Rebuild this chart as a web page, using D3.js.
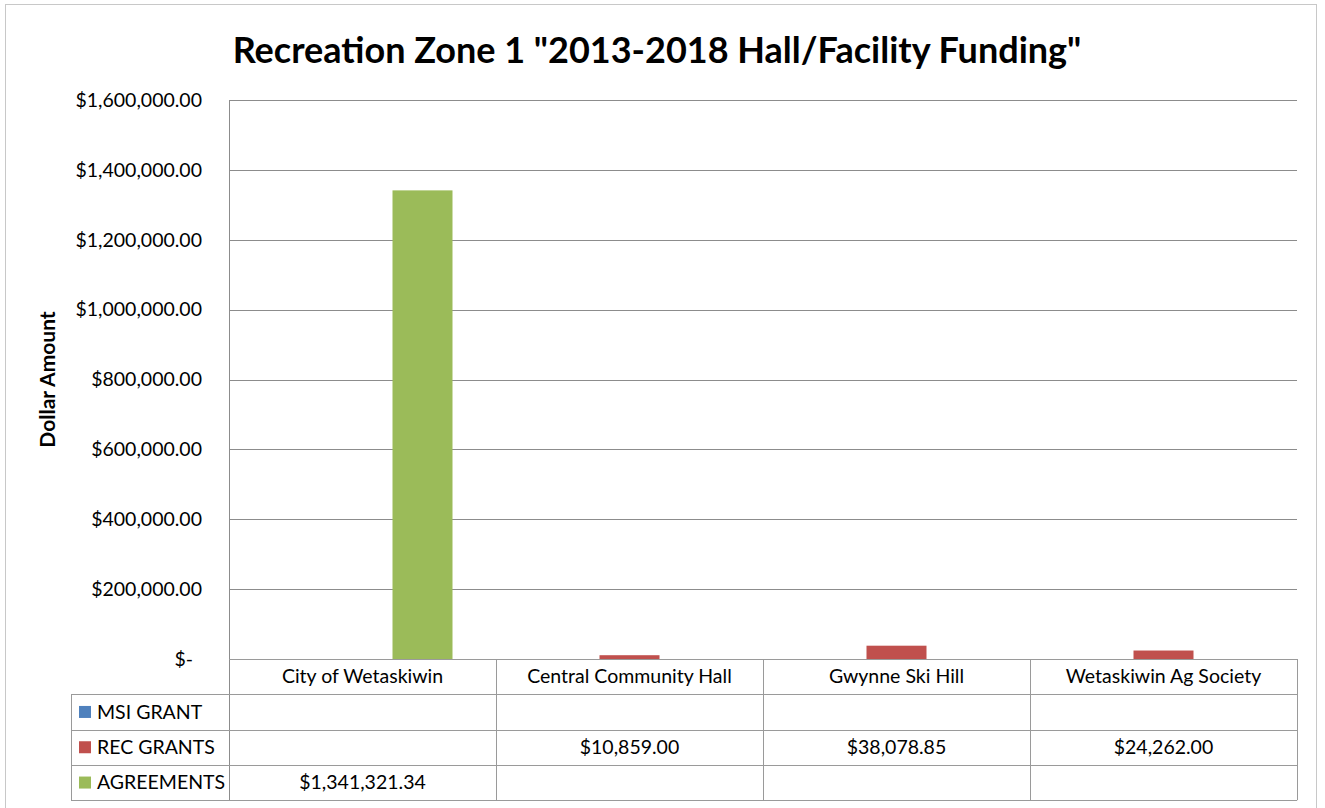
<!DOCTYPE html>
<html>
<head>
<meta charset="utf-8">
<script src="https://cdn.jsdelivr.net/npm/d3@7"></script>
<style>
  body { margin: 0; background: #fff; }
  text { font-family: Lato, "Open Sans", sans-serif; fill: #000; }
</style>
</head>
<body>
<div id="chart"></div>
<script>
var categories = ["City of Wetaskiwin", "Central Community Hall", "Gwynne Ski Hill", "Wetaskiwin Ag Society"];
var seriesNames = ["MSI GRANT", "REC GRANTS", "AGREEMENTS"];
var msiGrant = [null, null, null, null];
var recGrants = [null, 10859, 38078.85, 24262];
var agreements = [1341321.34, null, null, null];
var yTicks = [0, 200000, 400000, 600000, 800000, 1000000, 1200000, 1400000, 1600000];
var colours = ["#4F81BD", "#C0504D", "#9BBB59"];

var seriesValues = [msiGrant, recGrants, agreements];

var width = 1325, height = 808;
var plotLeft = 229, plotRight = 1297, plotTop = 100, plotBottom = 659;
var rowH = 35.3;
var fs = "19.5px";

var svg = d3.select("#chart").append("svg")
    .attr("width", width)
    .attr("height", height);

// outer chart border
svg.append("rect")
    .attr("x", 5.5).attr("y", 4.5)
    .attr("width", 1311).attr("height", 820)
    .attr("fill", "#fff")
    .attr("stroke", "#c8c8c8");

var x0 = d3.scaleBand().domain(categories).range([plotLeft, plotRight]);
var x1 = d3.scaleBand().domain(seriesNames).range([0, x0.bandwidth()]).paddingOuter(0.725);
var y = d3.scaleLinear().domain([0, 1600000]).range([plotBottom, plotTop]);

// gridlines
svg.append("g")
    .selectAll("line")
    .data(yTicks.slice(1))
    .enter()
    .append("line")
    .attr("x1", plotLeft).attr("x2", plotRight)
    .attr("y1", function (d) { return Math.round(y(d)) + 0.5; })
    .attr("y2", function (d) { return Math.round(y(d)) + 0.5; })
    .attr("stroke", "#8c8c8c");

// y axis with accounting-style labels
var fmt = d3.format(",.2f");
var yAxis = d3.axisLeft(y)
    .tickValues(yTicks)
    .tickSize(0)
    .tickPadding(27)
    .tickFormat(function (d) { return d === 0 ? "$-" : "$" + fmt(d); });

var ax = svg.append("g")
    .attr("transform", "translate(" + plotLeft + ",0)")
    .call(yAxis);
ax.select(".domain").remove();
ax.selectAll("text")
    .style("font-size", "19.5px")
    .attr("dx", function (d) { return d === 0 ? -9 : 0; });

// bars
var flat = [];
seriesValues.forEach(function (vals, si) {
    vals.forEach(function (v, ci) {
        if (v != null) flat.push({ cat: categories[ci], s: seriesNames[si], v: v, si: si });
    });
});

svg.append("g")
    .selectAll("rect")
    .data(flat)
    .enter()
    .append("rect")
    .attr("x", function (d) { return x0(d.cat) + x1(d.s); })
    .attr("width", x1.bandwidth())
    .attr("y", function (d) { return y(d.v); })
    .attr("height", function (d) { return y(0) - y(d.v); })
    .attr("fill", function (d) { return colours[d.si]; });

// data table
var tbl = svg.append("g").attr("stroke", "#9a9a9a").attr("fill", "none");
var tableLeft = 71;
var rowYs = [plotBottom, plotBottom + rowH, plotBottom + rowH * 2, plotBottom + rowH * 3, plotBottom + rowH * 4];

// axis line / left plot edge
tbl.append("line")
    .attr("x1", plotLeft + 0.5).attr("x2", plotLeft + 0.5)
    .attr("y1", plotTop).attr("y2", rowYs[4])
    .attr("stroke", "#8c8c8c");

// horizontal rules
tbl.selectAll("line.h")
    .data(rowYs)
    .enter()
    .append("line")
    .attr("class", "h")
    .attr("x1", function (d, i) { return i === 0 ? plotLeft : tableLeft; })
    .attr("x2", plotRight)
    .attr("y1", function (d) { return Math.round(d) + 0.5; })
    .attr("y2", function (d) { return Math.round(d) + 0.5; });

// vertical rules
tbl.selectAll("line.v")
    .data(categories.map(function (c) { return x0(c) + x0.bandwidth(); }))
    .enter()
    .append("line")
    .attr("class", "v")
    .attr("x1", function (d) { return Math.round(d) + 0.5; })
    .attr("x2", function (d) { return Math.round(d) + 0.5; })
    .attr("y1", rowYs[0]).attr("y2", rowYs[4]);

tbl.append("line")
    .attr("x1", tableLeft + 0.5).attr("x2", tableLeft + 0.5)
    .attr("y1", rowYs[1]).attr("y2", rowYs[4]);

// category header
svg.append("g")
    .selectAll("text")
    .data(categories)
    .enter()
    .append("text")
    .attr("x", function (d) { return x0(d) + x0.bandwidth() / 2; })
    .attr("y", rowYs[0] + rowH / 2)
    .attr("dy", "0.35em")
    .attr("text-anchor", "middle")
    .style("font-size", fs)
    .text(function (d) { return d; });

// legend keys and row labels
var rows = svg.append("g")
    .selectAll("g")
    .data(seriesNames)
    .enter()
    .append("g")
    .attr("transform", function (d, i) { return "translate(0," + (rowYs[i + 1] + rowH / 2) + ")"; });

rows.append("rect")
    .attr("x", 79).attr("y", -6)
    .attr("width", 12).attr("height", 12)
    .attr("fill", function (d, i) { return colours[i]; });

rows.append("text")
    .attr("x", 97)
    .attr("dy", "0.35em")
    .style("font-size", fs)
    .text(function (d) { return d; });

// values in table
var money = d3.format("$,.2f");
rows.each(function (s, si) {
    d3.select(this).selectAll("text.val")
        .data(seriesValues[si])
        .enter()
        .append("text")
        .attr("class", "val")
        .attr("x", function (d, ci) { return x0(categories[ci]) + x0.bandwidth() / 2; })
        .attr("dy", "0.35em")
        .attr("text-anchor", "middle")
        .style("font-size", fs)
        .text(function (d) { return d == null ? "" : money(d); });
});

// title
svg.append("text")
    .attr("x", 657)
    .attr("y", 63)
    .attr("text-anchor", "middle")
    .style("font-size", "36px")
    .style("font-weight", "bold")
    .text('Recreation Zone 1 "2013-2018 Hall/Facility Funding"');

// y axis title
svg.append("text")
    .attr("transform", "translate(55," + ((plotTop + plotBottom) / 2) + ") rotate(-90)")
    .attr("text-anchor", "middle")
    .style("font-size", "21px")
    .style("font-weight", "bold")
    .text("Dollar Amount");
</script>
</body>
</html>
